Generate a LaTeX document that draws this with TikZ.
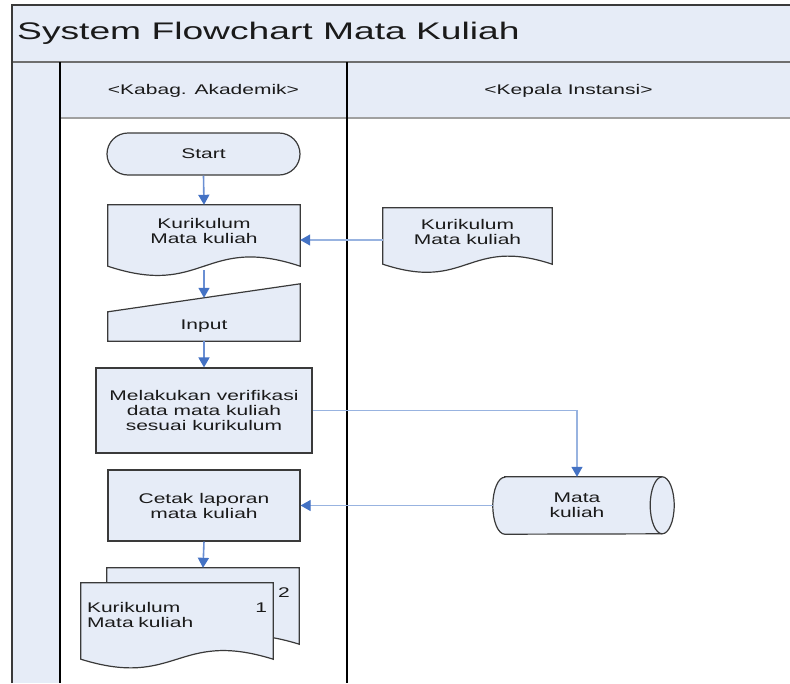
\documentclass[tikz,border=0pt]{standalone}
\usepackage{fontspec}
\setmainfont{Liberation Sans}
\newfontfamily\bodyfont{Liberation Sans}[FakeStretch=1.5]
\newfontfamily\titlefont{Liberation Sans}[FakeStretch=1.55]
\usetikzlibrary{arrows.meta,calc}

\definecolor{laneFill}{HTML}{E6ECF7}
\definecolor{edgeGray}{HTML}{3A3A3A}
\definecolor{bandLine}{HTML}{6E6E6E}
\definecolor{headLine}{HTML}{A0A0A0}
\definecolor{flowBlue}{HTML}{6A8FD3}
\definecolor{flowLight}{HTML}{98B3E0}
\definecolor{tipBlue}{HTML}{4472C4}
\definecolor{inkText}{HTML}{1A1A1A}

\pgfdeclarelayer{lanes}
\pgfdeclarelayer{outlines}
\pgfsetlayers{lanes,outlines,main}

\tikzset{
  bodytext/.style={font={\bodyfont\fontsize{14pt}{15pt}\selectfont}, text=inkText, align=center},
  shapeline/.style={draw=edgeGray, line width=1.2pt, fill=laneFill},
  boxnode/.style={bodytext, inner sep=0pt},
  procbox/.style={boxnode, shapeline},
  termbox/.style={boxnode, shapeline, rounded corners=21pt},
  flow/.style={draw=flowBlue, line width=1.6pt, -{Triangle[length=10pt,width=11pt,color=tipBlue]}},
  flowlong/.style={flow, draw=flowLight, line width=1.2pt},
}

\begin{document}
\begin{tikzpicture}[x=1pt,y=-1pt]
\useasboundingbox (0,0) rectangle (790,683);

% swimlane frame
\begin{pgfonlayer}{lanes}
  \fill[laneFill] (12,5) rectangle (790,62);
  \fill[laneFill] (60,62) rectangle (790,118);
  \fill[laneFill] (12,62) rectangle (60,683);
  \draw[draw=bandLine, line width=2.6pt] (12,62) -- (790,62);
  \draw[draw=headLine, line width=1.8pt] (60,118) -- (790,118);
  \draw[draw=edgeGray, line width=1.5pt] (12,683) -- (12,5) -- (790,5);
  \draw[draw=black, line width=1.6pt] (60,62) -- (60,683);
  \draw[draw=black, line width=1.6pt] (347,62) -- (347,683);
\end{pgfonlayer}

% titles
\node[anchor=west, inner sep=0pt, text=inkText,
      font={\titlefont\fontsize{24pt}{26pt}\selectfont}] (title) at (17,33) {System Flowchart Mata Kuliah};
\node[bodytext] (laneA) at (203.5,91) {<Kabag. Akademik>};
\node[bodytext] (laneB) at (568.5,91) {<Kepala Instansi>};

% shapes
\node[termbox, minimum width=193pt, minimum height=42pt] (start) at (203.5,154) {Start};
\node[boxnode, minimum width=192pt, minimum height=51pt] (doc1) at (204,230.5) {Kurikulum\\Mata kuliah};
\node[boxnode, minimum width=169pt, minimum height=48pt] (doc2) at (467.5,232) {Kurikulum\\Mata kuliah};
\node[boxnode, minimum width=192pt, minimum height=29pt] (input) at (204,326.5) {Input};
\node[procbox, minimum width=216pt, minimum height=85pt] (proc1) at (204,410.5) {Melakukan verifikasi\\data mata kuliah\\sesuai kurikulum};
\node[boxnode, minimum width=168pt, minimum height=57pt] (db) at (577,505.5) {Mata\\kuliah};
\node[procbox, minimum width=192pt, minimum height=71pt] (proc2) at (204,505.5) {Cetak laporan\\mata kuliah};
\node[boxnode, minimum width=192pt, minimum height=64pt, text width=180pt, align=left] (mdoc) at (177,615)
  {Kurikulum\hfill 1\\Mata kuliah};
\node[bodytext, inner sep=0pt] (page2) at (284,593) {2};

% outlines of the non-rectangular shapes
\begin{pgfonlayer}{outlines}
  % document shapes
  \draw[shapeline] (doc1.north west) -- (doc1.north east) -- ($(doc1.south east)+(0,10)$)
    .. controls ($(doc1.south)+(0,-22)$) and ($(doc1.south)+(0,42)$) .. ($(doc1.south west)+(0,10)$) -- cycle;
  \draw[shapeline] (doc2.north west) -- (doc2.north east) -- ($(doc2.south east)+(0,8)$)
    .. controls ($(doc2.south)+(0,-20)$) and ($(doc2.south)+(0,36)$) .. ($(doc2.south west)+(0,8)$) -- cycle;
  % manual input
  \draw[shapeline] (input.south west) -- (input.north west) -- ($(input.north east)+(0,-28)$)
    -- (input.south east) -- cycle;
  % direct access storage
  \draw[shapeline] ($(db.north west)+(12,0)$) -- ($(db.north east)+(1,0)$)
    arc[start angle=90, end angle=-90, x radius=12pt, y radius=28.5pt]
    -- ($(db.south west)+(12,0)$)
    arc[start angle=270, end angle=90, x radius=12pt, y radius=28.5pt] -- cycle;
  \draw[draw=edgeGray, line width=1.2pt] ($(db.north east)+(1,0)$)
    arc[start angle=90, end angle=270, x radius=12pt, y radius=28.5pt];
  % multiple documents: back page, then front page
  \draw[shapeline] ($(mdoc.north west)+(26,-15)$) -- ($(mdoc.north east)+(26,-15)$) -- ($(mdoc.south east)+(26,-3)$)
    .. controls ($(mdoc.south)+(26,-33)$) and ($(mdoc.south)+(26,27)$) .. ($(mdoc.south west)+(26,-3)$) -- cycle;
  \draw[shapeline] (mdoc.north west) -- (mdoc.north east) -- ($(mdoc.south east)+(0,12)$)
    .. controls ($(mdoc.south)+(0,-18)$) and ($(mdoc.south)+(0,42)$) .. ($(mdoc.south west)+(0,12)$) -- cycle;
\end{pgfonlayer}

% connectors
\draw[flow] (start.south) -- (doc1.north);
\draw[flowlong] ($(doc2.west)+(0,8)$) -- ($(doc1.east |- doc2.west)+(0,8)$);
\draw[flow] ($(doc1.south)+(0,14)$) -- ($(input.north)+(0,-14)$);
\draw[flow] (input.south) -- (proc1.north);
\draw[flowlong] (proc1.east) -| (db.north);
\draw[flowlong] (db.west) -- (proc2.east);
\draw[flow] (proc2.south) -- ($(mdoc.north)+(26,-15)$);
\end{tikzpicture}
\end{document}
